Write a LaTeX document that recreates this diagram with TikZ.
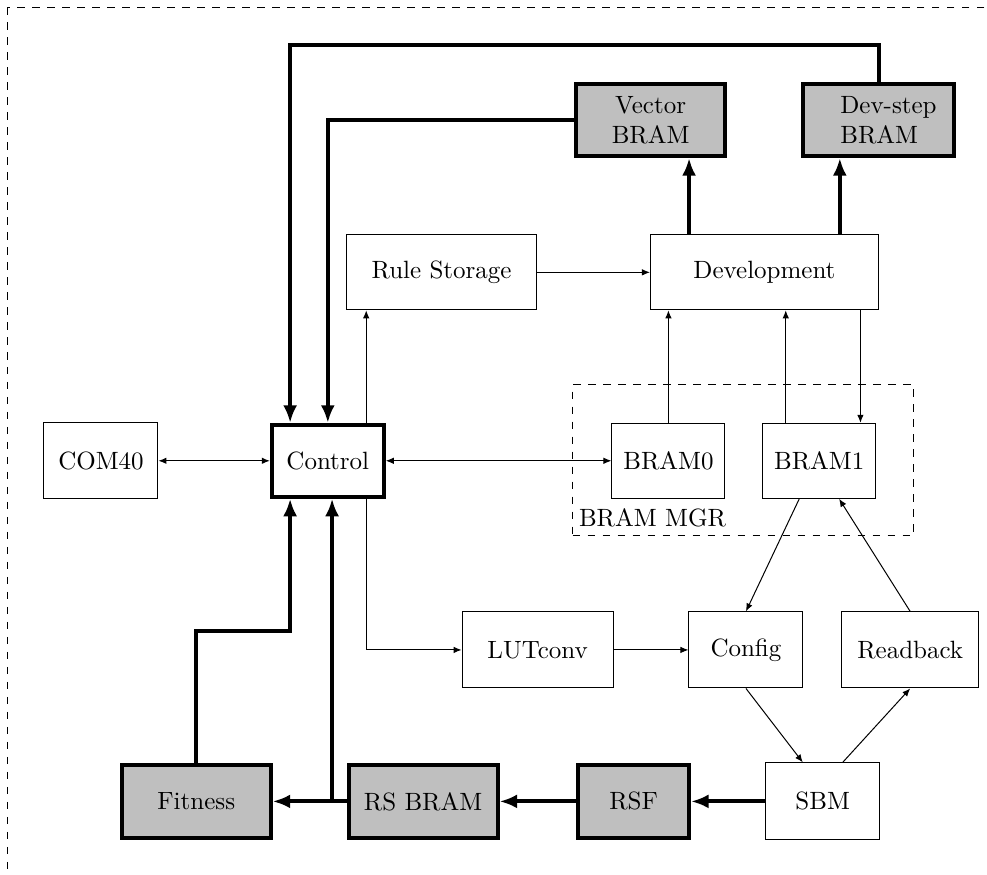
\documentclass[tikz,border=0pt]{standalone}
\usepackage{tikz}
\usetikzlibrary{arrows.meta,positioning}

\begin{document}
\begin{tikzpicture}[
  blk/.style={draw, align=center, minimum width=45.6pt, minimum height=30pt, inner sep=3pt},
  heavyblk/.style={blk, line width=1.6pt, minimum height=28.8pt},
  grayblk/.style={heavyblk, fill=lightgray},
  arr/.style={-{Latex[length=3.2pt,width=2.6pt]}},
  dblarr/.style={{Latex[length=3.2pt,width=2.6pt]}-{Latex[length=3.2pt,width=2.6pt]}},
  fatarr/.style={-{Latex[length=7pt,width=5.6pt]}, line width=1.6pt}]
  \useasboundingbox (0,0) rectangle (13.88,-12.30);
  \draw[dashed] (0.1,-0.1) rectangle (14.3,-12.7);
  % memories on top
  \node[grayblk, minimum width=59.6pt] (vecbram) at (9.15,-1.69) {Vector\\BRAM};
  \node[grayblk, minimum width=60.4pt] (devstep) at (12.35,-1.69) {};
  \node[anchor=west, align=left, inner sep=0pt] (devsteptxt) at (11.81,-1.69) {Dev-step\\BRAM};
  % rules and development
  \node[blk, minimum width=76pt] (rulestor) at (6.21,-3.83) {Rule Storage};
  \node[blk, minimum width=91.2pt] (devel) at (10.75,-3.83) {Development};
  % middle row
  \node[blk, minimum height=30.4pt] (com40) at (1.42,-6.48) {COM40};
  \node[heavyblk, minimum width=44.8pt] (control) at (4.61,-6.48) {Control};
  \node[blk, minimum width=45.2pt] (bram0) at (9.40,-6.48) {BRAM0};
  \node[blk, minimum width=45.2pt] (bram1) at (11.52,-6.48) {BRAM1};
  \node[draw, dashed, minimum width=136.4pt, minimum height=60.4pt] (mgr) at (10.45,-6.47) {};
  \node[anchor=base west, inner sep=0pt] (mgrtxt) at ([shift={(0.09,0.13)}]mgr.south west) {BRAM MGR};
  % configuration
  \node[blk, minimum width=60.4pt, minimum height=30.4pt] (lutconv) at (7.56,-9.14) {LUTconv};
  \node[blk, minimum height=30.4pt] (config) at (10.49,-9.14) {Config};
  \node[blk, minimum width=54.8pt, minimum height=30.4pt] (readback) at (12.80,-9.14) {Readback};
  % bottom row
  \node[grayblk, minimum width=59.6pt, minimum height=29.2pt] (fitness) at (2.76,-11.27) {Fitness};
  \node[grayblk, minimum width=59.6pt, minimum height=29.2pt] (rsbram) at (5.95,-11.27) {RS BRAM};
  \node[grayblk, minimum width=44.4pt, minimum height=29.2pt] (rsf) at (8.91,-11.27) {RSF};
  \node[blk, minimum height=30.8pt] (sbm) at (11.57,-11.27) {SBM};
  % x positions of vertical lines
  \coordinate (rsx) at (5.15,0);
  \coordinate (b1up) at (11.05,0);
  \coordinate (b1dn) at (12.10,0);
  \coordinate (vup) at (9.69,0);
  \coordinate (dup) at (11.81,0);
  \coordinate (outx) at (12.36,0);
  \coordinate (jx) at (4.67,0);
  \coordinate (topc) at (4.08,-0.63);
  \coordinate (fitc) at (4.08,-8.87);
  % thin arrows
  \draw[arr] (rulestor) -- (devel);
  \draw[arr] (control.north -| rsx) -- (rulestor.south -| rsx);
  \draw[arr] (control.south -| rsx) |- (lutconv.west);
  \draw[arr] (lutconv) -- (config);
  \draw[dblarr] (com40) -- (control);
  \draw[dblarr] (control) -- (bram0);
  \draw[arr] (bram0.north) -- (bram0.north |- devel.south);
  \draw[arr] (bram1.north -| b1up) -- (devel.south -| b1up);
  \draw[arr] (devel.south -| b1dn) -- (bram1.north -| b1dn);
  \draw[arr] ([xshift=-0.28cm]bram1.south) -- (config.north);
  \draw[arr] (readback.north) -- ([xshift=0.28cm]bram1.south);
  \draw[arr] (config.south) -- ([xshift=-0.28cm]sbm.north);
  \draw[arr] ([xshift=0.28cm]sbm.north) -- (readback.south);
  % heavy data paths
  \draw[fatarr] (devel.north -| vup) -- (vecbram.south -| vup);
  \draw[fatarr] (devel.north -| dup) -- (devstep.south -| dup);
  \draw[fatarr] (devstep.north -| outx) |- (topc) -- (control.north -| topc);
  \draw[fatarr] (vecbram.west) -| (control.north);
  \draw[fatarr] (sbm) -- (rsf);
  \draw[fatarr] (rsf) -- (rsbram);
  \draw[fatarr] (rsbram) -- (fitness);
  \draw[fatarr] (rsbram.west -| jx) -- (control.south -| jx);
  \draw[fatarr] (fitness.north) |- (fitc) -- (control.south -| fitc);
\end{tikzpicture}
\end{document}
